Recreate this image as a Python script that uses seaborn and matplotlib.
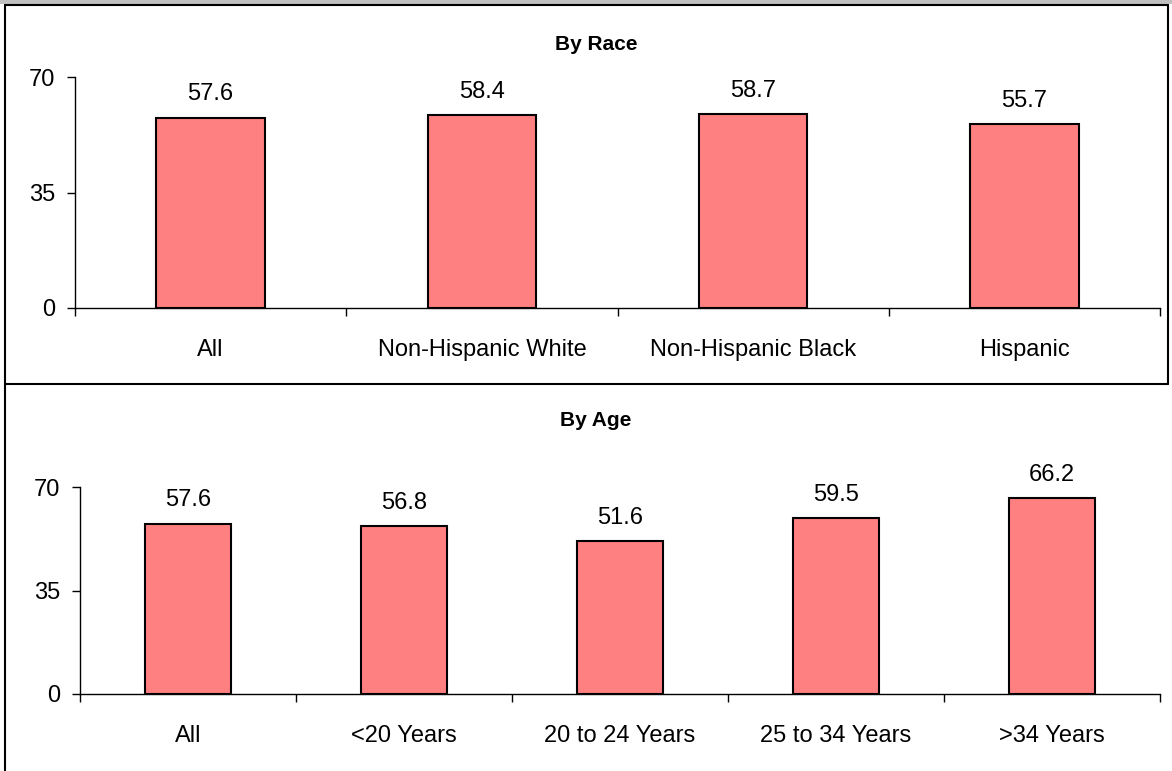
import matplotlib
matplotlib.use("Agg")
import matplotlib.pyplot as plt
import seaborn as sns
from matplotlib.patches import Rectangle
from matplotlib.lines import Line2D

# data
race_cats = ["All", "Non-Hispanic White", "Non-Hispanic Black", "Hispanic"]
race_vals = [57.6, 58.4, 58.7, 55.7]
age_cats = ["All", "<20 Years", "20 to 24 Years", "25 to 34 Years", ">34 Years"]
age_vals = [57.6, 56.8, 51.6, 59.5, 66.2]
yticks = [0, 35, 70]

sns.set_style("white", {"text.color": "black", "xtick.color": "black",
                        "ytick.color": "black", "axes.labelcolor": "black",
                        "xtick.bottom": True, "ytick.left": True})
plt.rcParams["font.family"] = ["Liberation Sans", "DejaVu Sans"]

fig = plt.figure(figsize=(11.72, 7.71), dpi=100)

# gray strip of the clipped page title and frame lines
fig.add_artist(Rectangle((0, 1 - 4 / 771), 1, 4 / 771, transform=fig.transFigure,
                         facecolor="#c0c0c0", edgecolor="none"))
fig.add_artist(Line2D([5 / 1172, 1168 / 1172], [1 - 5 / 771, 1 - 5 / 771],
                      transform=fig.transFigure, color="black", lw=1.5))
fig.add_artist(Line2D([5 / 1172, 5 / 1172], [0, 1 - 5 / 771],
                      transform=fig.transFigure, color="black", lw=1.5))
fig.add_artist(Line2D([1168 / 1172, 1168 / 1172], [1 - 384 / 771, 1 - 5 / 771],
                      transform=fig.transFigure, color="black", lw=1.5))
fig.add_artist(Line2D([5 / 1172, 1168 / 1172], [1 - 384 / 771, 1 - 384 / 771],
                      transform=fig.transFigure, color="black", lw=1.5))


def panel(rect, cats, vals, title, title_y):
    ax = fig.add_axes(rect)
    sns.barplot(x=cats, y=vals, color="#FF8080", edgecolor="black", linewidth=1.5,
                width=0.4, saturation=1, ax=ax)
    n = len(cats)
    ax.set_xlim(-0.5, n - 0.5)
    ax.set_ylim(0, 70)
    ax.set_yticks(yticks)
    ax.set_xticks(range(n))
    ax.set_xticklabels(cats, fontsize=17, color="black")
    ax.set_xticks([i - 0.5 for i in range(n + 1)], minor=True)
    ax.tick_params(axis="x", which="major", length=0, pad=22, bottom=True)
    ax.tick_params(axis="x", which="minor", length=6, direction="out", color="black",
                   width=1, bottom=True)
    ax.tick_params(axis="y", length=6, direction="out", color="black", width=1,
                   labelsize=17, labelcolor="black", left=True, pad=8)
    for s in ["top", "right"]:
        ax.spines[s].set_visible(False)
    for s in ["left", "bottom"]:
        ax.spines[s].set_color("black")
        ax.spines[s].set_linewidth(1)
    for i, v in enumerate(vals):
        ax.annotate(f"{v:.1f}", (i, v), xytext=(0, 9), textcoords="offset points",
                    ha="center", va="bottom", fontsize=17, color="black")
    fig.text(596 / 1172, 1 - title_y / 771, title, ha="center", va="center",
             fontsize=15, fontweight="bold", color="black")
    return ax


panel([75 / 1172, 1 - 308 / 771, 1085 / 1172, 231 / 771], race_cats, race_vals, "By Race", 44)
panel([80 / 1172, 1 - 694 / 771, 1080 / 1172, 207 / 771], age_cats, age_vals, "By Age", 421)

fig.savefig("out.png", dpi=100)
